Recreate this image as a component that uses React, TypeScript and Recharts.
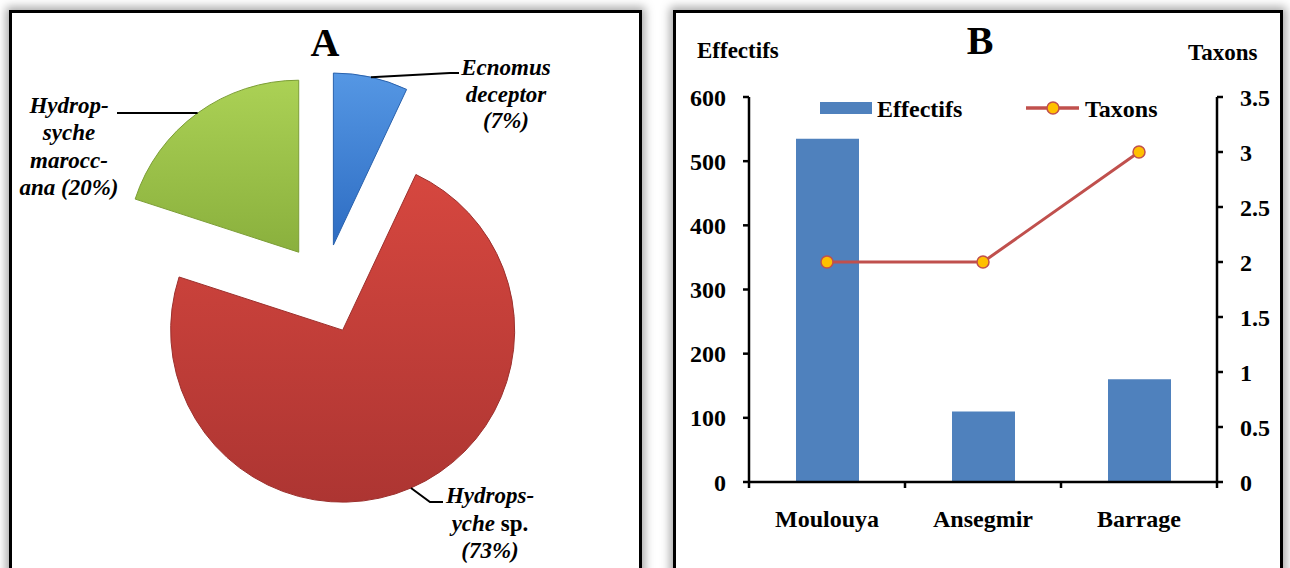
import React from 'react';
import { PieChart, Pie, Cell, ComposedChart, Bar, Line, XAxis, YAxis, Legend } from 'recharts';

// ---- Panel A data
const species = ['Ecnomus deceptor', 'Hydropsyche sp.', 'Hydropsyche maroccana'];
const shares = [7, 73, 20];
// label lines as [text, italic] segments
const speciesLabelLines: [string, boolean][][][] = [
  [[['Ecnomus', true]], [['deceptor', true]], [['(7%)', true]]],
  [[['Hydrops-', true]], [['yche', true], [' sp.', false]], [['(73%)', true]]],
  [[['Hydrop-', true]], [['syche', true]], [['marocc-', true]], [['ana (20%)', true]]],
];

// ---- Panel B data
const sites = ['Moulouya', 'Ansegmir', 'Barrage'];
const effectifs = [535, 110, 160];
const taxons = [2, 2, 3];
const effectifsTicks = [0, 100, 200, 300, 400, 500, 600];
const taxonsTicks = [0, 0.5, 1, 1.5, 2, 2.5, 3, 3.5];
const seriesNames = ['Effectifs', 'Taxons'];

const pieData = species.map((name, i) => ({ name, value: shares[i] }));
const siteData = sites.map((site, i) => ({ site, effectifs: effectifs[i], taxons: taxons[i] }));

const FONT = '"Liberation Serif", "Times New Roman", serif';
const PIE_CX = 324;
const PIE_CY = 287;
const PIE_R = 172;
const EXPLODE = [43, 47, 43];
const RAD = Math.PI / 180;

const sliceGradients = [
  ['#5597e4', '#2d6cc2'],
  ['#d6473f', '#ad3532'],
  ['#abd155', '#8ab03d'],
];
const sliceStroke = ['#2a62ad', '#9c302d', '#7c9e36'];

const pieLabelLayout = [
  { elbow: [450, 73], end: [459, 73], textX: 506, baseline: 75, gap: 26.5 },
  { elbow: [430, 502], end: [443, 502], textX: 490, baseline: 503, gap: 27.5 },
  { elbow: [122, 113], end: [117, 113], textX: 69, baseline: 113, gap: 27.3 },
];

const total = shares.reduce((a, b) => a + b, 0);
const midAngles = shares.map((v, i) => {
  const before = shares.slice(0, i).reduce((a, b) => a + b, 0);
  return ((before + v / 2) / total) * 360;
});

const makeLabel = (focus: number) => (props: any) => {
  if (props.index !== focus) return null;
  const { cx, cy, outerRadius, midAngle } = props;
  const sx = cx + Math.cos(-midAngle * RAD) * outerRadius;
  const sy = cy + Math.sin(-midAngle * RAD) * outerRadius;
  const lay = pieLabelLayout[focus];
  return (
    <g>
      <polyline
        points={`${sx},${sy} ${lay.elbow[0]},${lay.elbow[1]} ${lay.end[0]},${lay.end[1]}`}
        fill="none"
        stroke="#000"
        strokeWidth={2}
      />
      <text textAnchor="middle" fontFamily={FONT} fontWeight="bold" fontSize={23} fill="#000">
        {speciesLabelLines[focus].map((line, li) => (
          <tspan key={li} x={lay.textX} y={lay.baseline + li * lay.gap}>
            {line.map((seg, si) => (
              <tspan key={si} fontStyle={seg[1] ? 'italic' : 'normal'}>{seg[0]}</tspan>
            ))}
          </tspan>
        ))}
      </text>
    </g>
  );
};

const panelStyle: React.CSSProperties = {
  position: 'absolute',
  top: 10,
  height: 600,
  boxSizing: 'border-box',
  border: '3px solid #000',
  background: '#fff',
  boxShadow: '0 0 9px 3px rgba(0,0,0,0.35)',
};

const SiteTick = (props: any) => {
  const { x, y, payload, index, width } = props;
  const band = (width || 468) / sites.length;
  return (
    <g>
      <line x1={x - band / 2} y1={y - 6} x2={x - band / 2} y2={y} stroke="#000" strokeWidth={2.5} />
      {index === sites.length - 1 && (
        <line x1={x + band / 2} y1={y - 6} x2={x + band / 2} y2={y} stroke="#000" strokeWidth={2.5} />
      )}
      <text x={x} y={y + 39} textAnchor="middle" fontFamily={FONT} fontWeight="bold" fontSize={24} fill="#000">
        {payload.value}
      </text>
    </g>
  );
};

const LegendContent = () => (
  <svg width={350} height={30} style={{ display: 'block' }}>
    <rect x={0} y={10} width={52} height={12} fill="#4f81bd" />
    <text x={57} y={25} fontFamily={FONT} fontWeight="bold" fontSize={24} fill="#000">{seriesNames[0]}</text>
    <line x1={206} y1={16} x2={259} y2={16} stroke="#c0504d" strokeWidth={3.5} />
    <circle cx={233} cy={16} r={6} fill="#ffc000" stroke="#c0504d" strokeWidth={1.5} />
    <text x={265} y={25} fontFamily={FONT} fontWeight="bold" fontSize={24} fill="#000">{seriesNames[1]}</text>
  </svg>
);

const tickStyle = { fill: '#000', fontFamily: FONT, fontWeight: 'bold', fontSize: 24 } as any;

export default function App() {
  return (
    <div style={{ position: 'fixed', left: 0, top: 0, width: 1290, height: 568, overflow: 'hidden', background: '#fff' }}>
      <div style={{ ...panelStyle, left: 9, width: 633 }} />
      <div style={{ ...panelStyle, left: 673, width: 610 }} />

      {/* Panel A */}
      <div style={{ position: 'absolute', left: 0, top: 0 }}>
        <PieChart width={650} height={568} margin={{ top: 0, right: 0, bottom: 0, left: 0 }}>
          <defs>
            {sliceGradients.map((g, i) => (
              <linearGradient key={i} id={`slice${i}`} x1="0" y1="0" x2="0" y2="1">
                <stop offset="0%" stopColor={g[0]} />
                <stop offset="100%" stopColor={g[1]} />
              </linearGradient>
            ))}
          </defs>
          {shares.map((_, k) => (
            <Pie
              key={k}
              data={pieData}
              dataKey="value"
              nameKey="name"
              cx={PIE_CX + EXPLODE[k] * Math.sin(midAngles[k] * RAD)}
              cy={PIE_CY - EXPLODE[k] * Math.cos(midAngles[k] * RAD)}
              outerRadius={PIE_R}
              startAngle={90}
              endAngle={-270}
              isAnimationActive={false}
              labelLine={false}
              label={makeLabel(k)}
            >
              {pieData.map((_, i) => (
                <Cell
                  key={i}
                  fill={i === k ? `url(#slice${i})` : 'transparent'}
                  stroke={i === k ? sliceStroke[i] : 'none'}
                  strokeWidth={i === k ? 1 : 0}
                />
              ))}
            </Pie>
          ))}
        </PieChart>
        <svg width={650} height={80} style={{ position: 'absolute', left: 0, top: 0, pointerEvents: 'none' }}>
          <text x={325} y={56} textAnchor="middle" fontFamily={FONT} fontWeight="bold" fontSize={40}>A</text>
        </svg>
      </div>

      {/* Panel B */}
      <div style={{ position: 'absolute', left: 672, top: 0 }}>
        <ComposedChart width={612} height={568} data={siteData} margin={{ top: 97, right: 7, bottom: 46, left: 17 }}>
          <XAxis
            dataKey="site"
            height={40}
            tickLine={false}
            tickSize={6}
            tickMargin={0}
            axisLine={{ stroke: '#000', strokeWidth: 2.5 }}
            tick={<SiteTick />}
            interval={0}
          />
          <YAxis
            yAxisId="left"
            width={60}
            domain={[0, 600]}
            ticks={effectifsTicks}
            interval={0}
            tickSize={6}
            tickMargin={17}
            axisLine={{ stroke: '#000', strokeWidth: 2.5 }}
            tickLine={{ stroke: '#000', strokeWidth: 2.5 }}
            tick={tickStyle}
          />
          <YAxis
            yAxisId="right"
            orientation="right"
            width={60}
            domain={[0, 3.5]}
            ticks={taxonsTicks}
            interval={0}
            tickSize={6}
            tickMargin={17}
            axisLine={{ stroke: '#000', strokeWidth: 2.5 }}
            tickLine={{ stroke: '#000', strokeWidth: 2.5 }}
            tick={tickStyle}
          />
          <Legend
            layout="horizontal"
            align="center"
            verticalAlign="middle"
            wrapperStyle={{ left: 148, top: 92, width: 350, height: 30 }}
            content={<LegendContent />}
          />
          <Bar yAxisId="left" dataKey="effectifs" name={seriesNames[0]} fill="#4f81bd" barSize={63} isAnimationActive={false} />
          <Line
            yAxisId="right"
            dataKey="taxons"
            name={seriesNames[1]}
            type="linear"
            stroke="#c0504d"
            strokeWidth={3}
            dot={{ r: 6, fill: '#ffc000', stroke: '#c0504d', strokeWidth: 1.5 }}
            activeDot={false}
            isAnimationActive={false}
          />
        </ComposedChart>
        <svg width={612} height={80} style={{ position: 'absolute', left: 0, top: 0, pointerEvents: 'none' }}>
          <text x={25} y={58} fontFamily={FONT} fontWeight="bold" fontSize={23}>{seriesNames[0]}</text>
          <text x={308} y={54} textAnchor="middle" fontFamily={FONT} fontWeight="bold" fontSize={40}>B</text>
          <text x={516} y={60} fontFamily={FONT} fontWeight="bold" fontSize={23}>{seriesNames[1]}</text>
        </svg>
      </div>
    </div>
  );
}
